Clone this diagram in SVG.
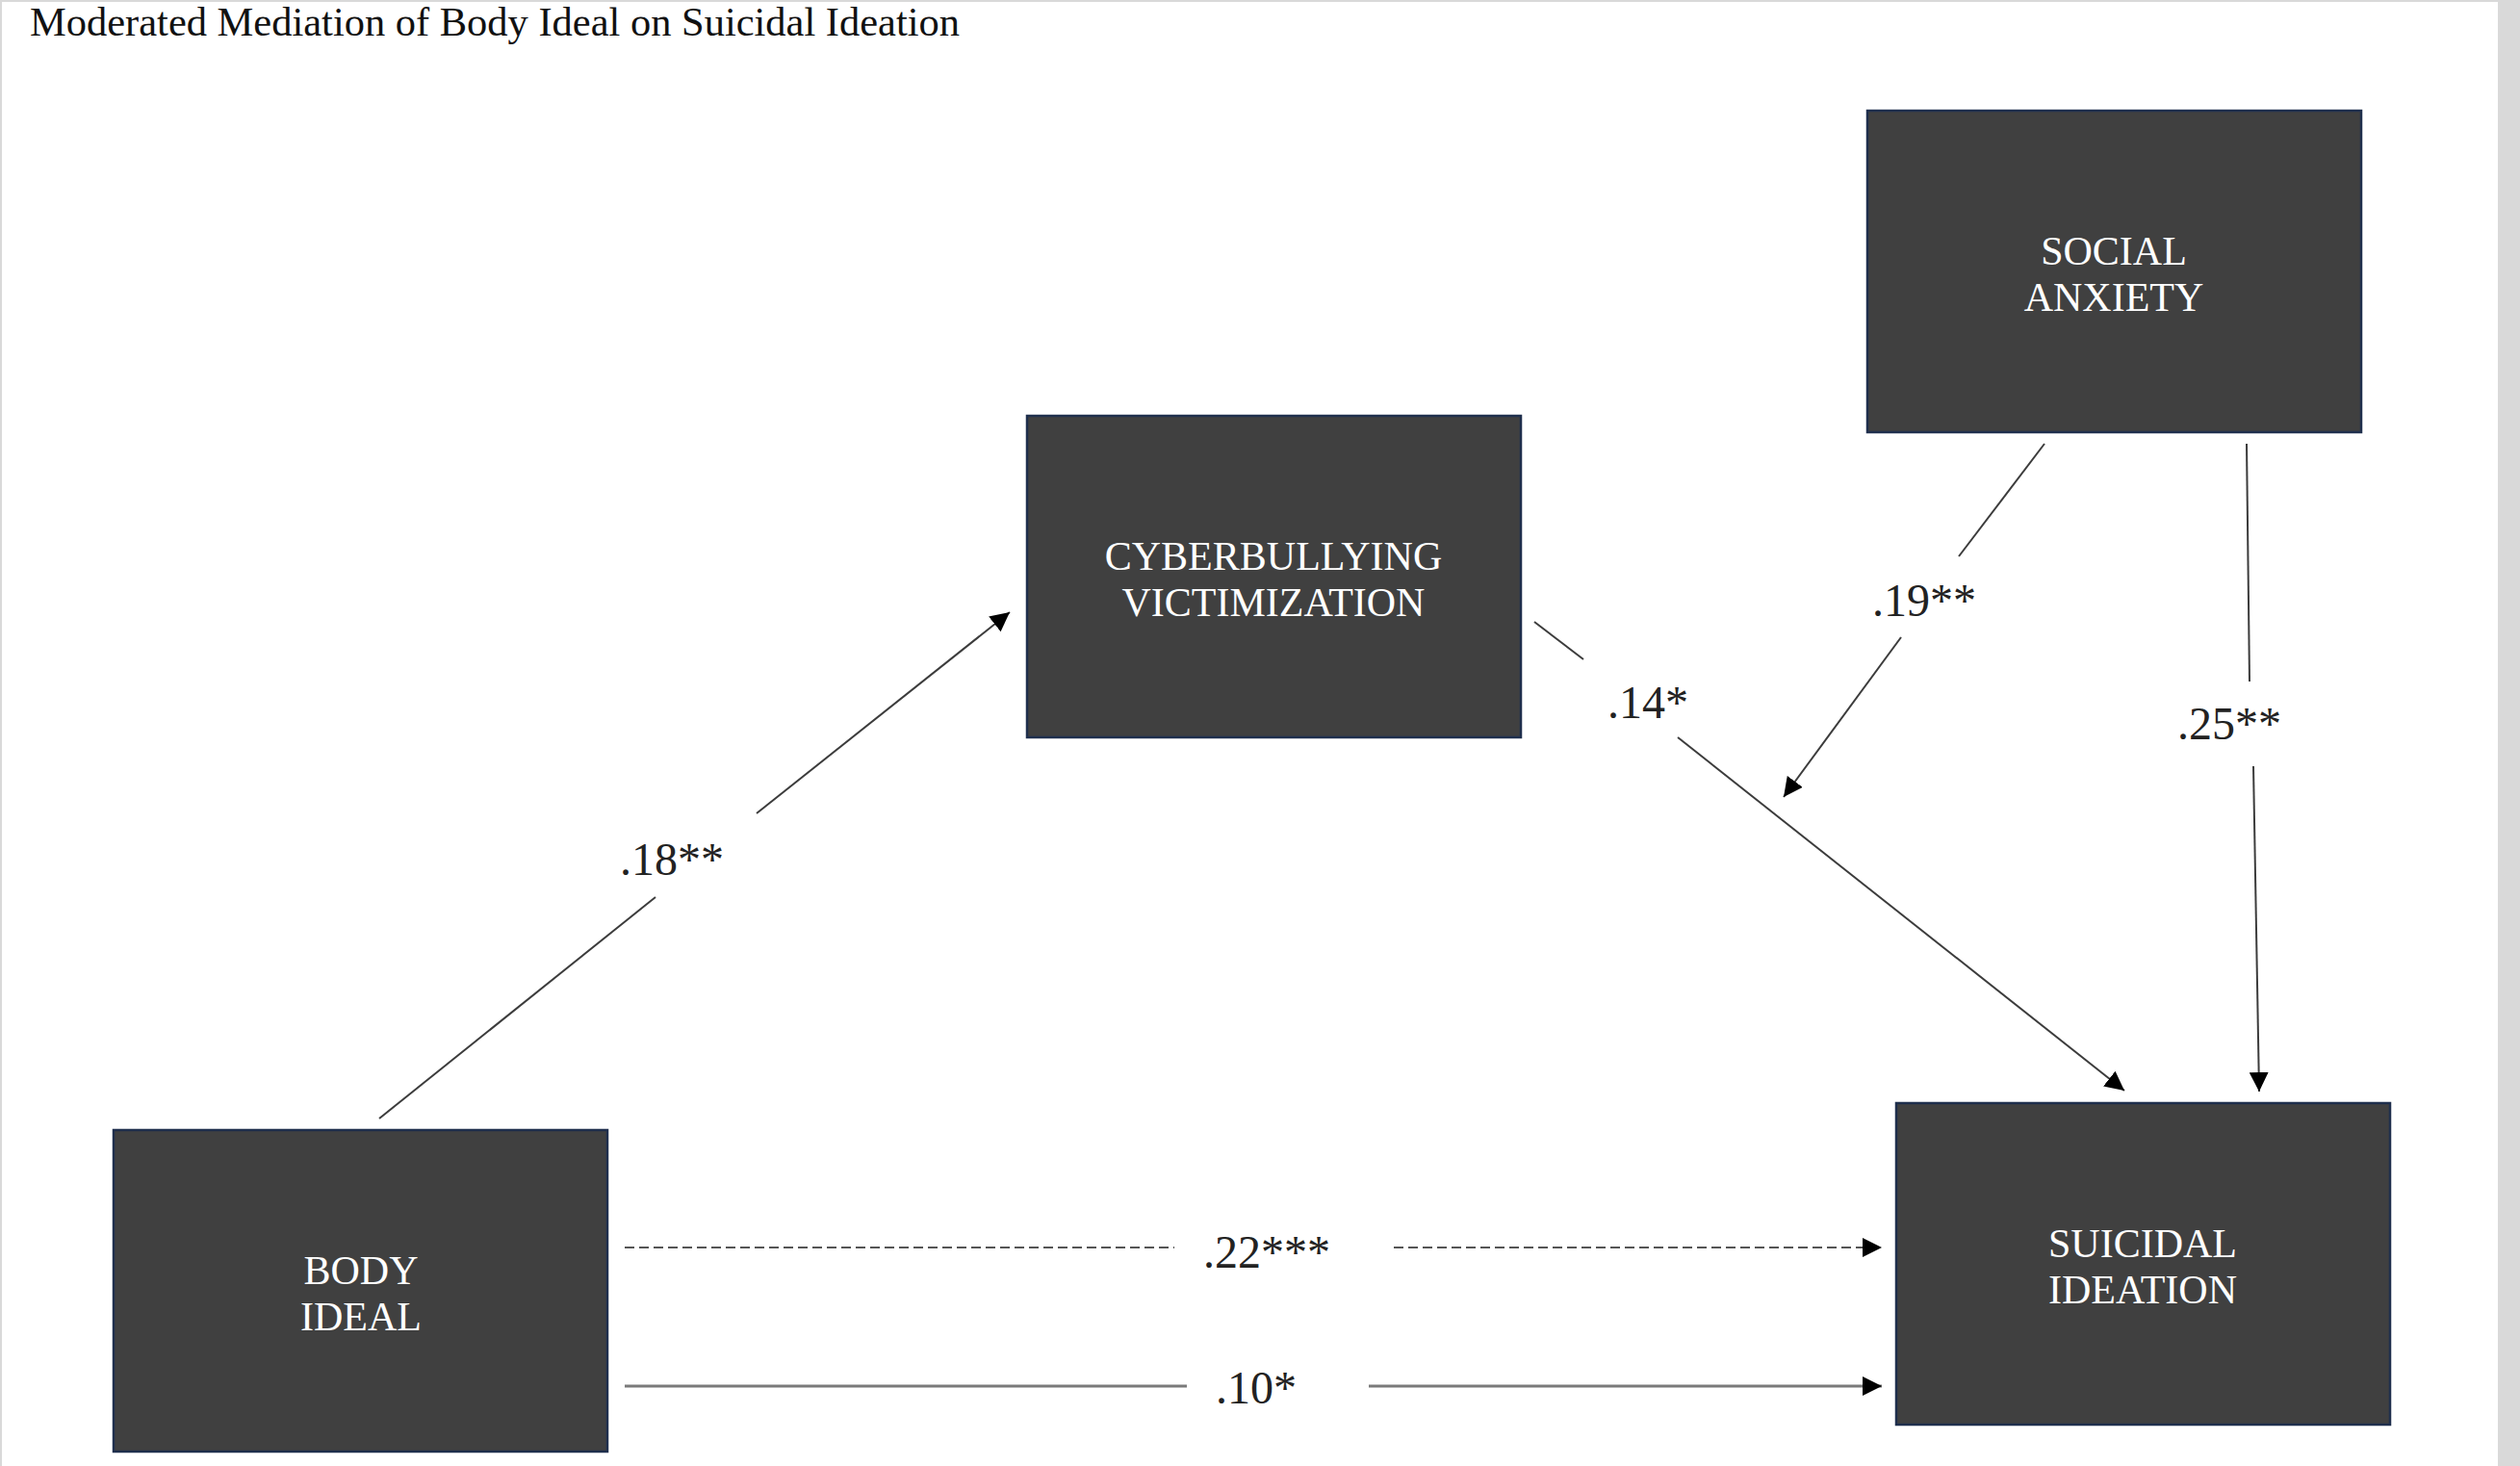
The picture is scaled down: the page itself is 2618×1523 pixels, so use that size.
<svg xmlns="http://www.w3.org/2000/svg" width="2618" height="1523" viewBox="0 0 2618 1523">
<defs>
<style>
.box{fill:#404040;stroke:#1f2f4d;stroke-width:2.5}
.nt{font-family:"Liberation Serif","Times New Roman",serif;font-size:42px;fill:#ffffff;text-anchor:middle}
.lbl{font-family:"Liberation Serif","Times New Roman",serif;font-size:48px;fill:#222222}
.title{font-family:"Liberation Serif","Times New Roman",serif;font-size:42.5px;fill:#111111}
.ln{fill:none;stroke:#3c3c3c;stroke-width:2}
.dash{fill:none;stroke:#555555;stroke-width:2;stroke-dasharray:10 5}
.solid{fill:none;stroke:#7a7a7a;stroke-width:3}
</style>
<marker id="arr" viewBox="0 0 20 20" refX="20" refY="10" markerWidth="20" markerHeight="20" markerUnits="userSpaceOnUse" orient="auto">
<path d="M0,0 L20,10 L0,20 Z" fill="#000000"/>
</marker>
</defs>
<rect x="0" y="0" width="2618" height="1523" fill="#d9d9d9"/>
<rect x="2" y="2" width="2593" height="1521" fill="#ffffff"/>
<text class="title" x="31" y="37" textLength="966" lengthAdjust="spacingAndGlyphs">Moderated Mediation of Body Ideal on Suicidal Ideation</text>

<g id="connectors">
<line class="ln" x1="394" y1="1162" x2="681" y2="932"/>
<line class="ln" x1="786" y1="845" x2="1049" y2="636" marker-end="url(#arr)"/>
<line class="ln" x1="1594" y1="646" x2="1645" y2="685"/>
<line class="ln" x1="1743" y1="766" x2="2207" y2="1133" marker-end="url(#arr)"/>
<line class="ln" x1="2124" y1="461" x2="2035" y2="578"/>
<line class="ln" x1="1975" y1="662" x2="1853" y2="828" marker-end="url(#arr)"/>
<line class="ln" x1="2334" y1="461" x2="2337" y2="708"/>
<line class="ln" x1="2341" y1="796" x2="2347" y2="1134" marker-end="url(#arr)"/>
<line class="dash" x1="649" y1="1296" x2="1220" y2="1296"/>
<line class="dash" x1="1448" y1="1296" x2="1955" y2="1296" marker-end="url(#arr)"/>
<line class="solid" x1="649" y1="1440" x2="1233" y2="1440"/>
<line class="solid" x1="1422" y1="1440" x2="1955" y2="1440" marker-end="url(#arr)"/>
<text class="lbl" x="644" y="909">.18**</text>
<text class="lbl" x="1670" y="746">.14*</text>
<text class="lbl" x="1945" y="640">.19**</text>
<text class="lbl" x="2262" y="768">.25**</text>
<text class="lbl" x="1250" y="1317">.22***</text>
<text class="lbl" x="1263" y="1458">.10*</text>
</g>

<g id="body-ideal">
<rect class="box" x="118" y="1174" width="513" height="334"/>
<text class="nt" x="375" y="1334">BODY</text>
<text class="nt" x="375" y="1382">IDEAL</text>
</g>
<g id="cyberbullying-victimization">
<rect class="box" x="1067" y="432" width="513" height="334"/>
<text class="nt" x="1323" y="592">CYBERBULLYING</text>
<text class="nt" x="1323" y="640">VICTIMIZATION</text>
</g>
<g id="social-anxiety">
<rect class="box" x="1940" y="115" width="513" height="334"/>
<text class="nt" x="2196" y="275">SOCIAL</text>
<text class="nt" x="2196" y="323">ANXIETY</text>
</g>
<g id="suicidal-ideation">
<rect class="box" x="1970" y="1146" width="513" height="334"/>
<text class="nt" x="2226" y="1306">SUICIDAL</text>
<text class="nt" x="2226" y="1354">IDEATION</text>
</g>
</svg>
